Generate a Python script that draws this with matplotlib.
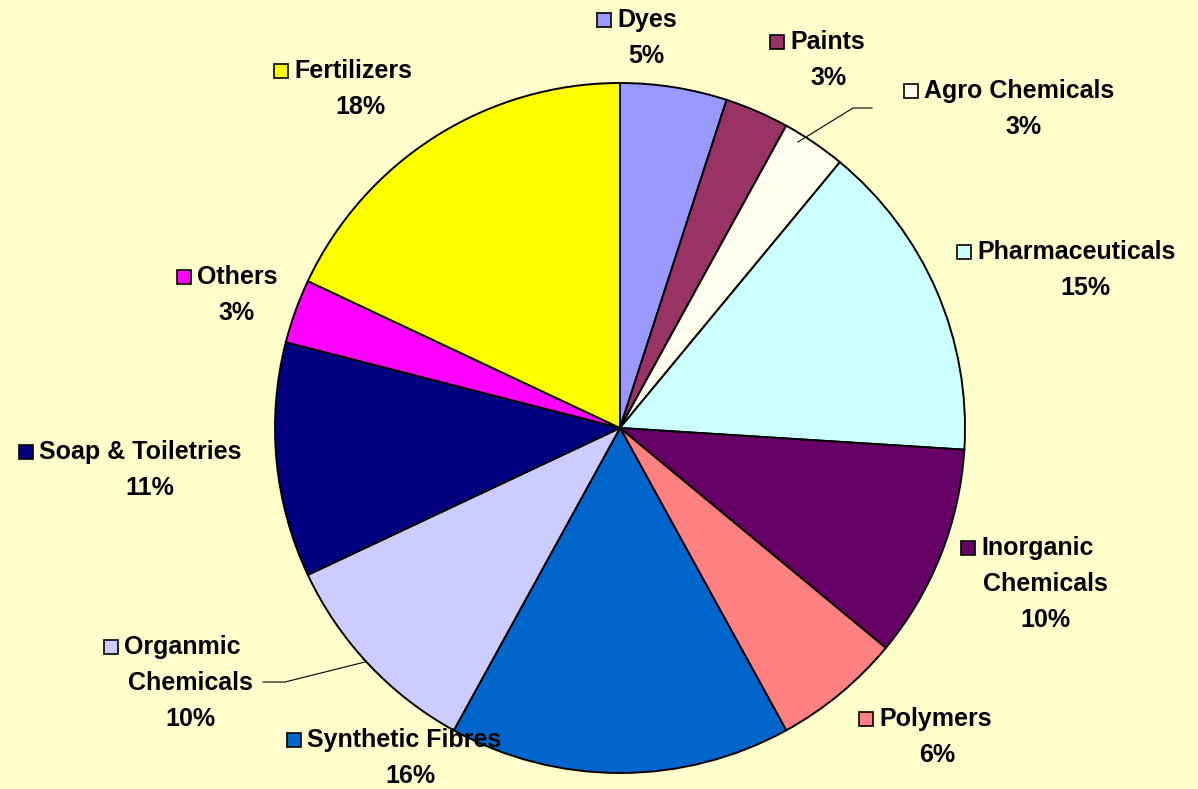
import matplotlib as mpl
mpl.use('Agg')
import matplotlib.pyplot as plt

# data
names = ["Dyes", "Paints", "Agro Chemicals", "Pharmaceuticals", "Inorganic\nChemicals",
         "Polymers", "Synthetic Fibres", "Organmic\nChemicals", "Soap & Toiletries",
         "Others", "Fertilizers"]
shares = [5, 3, 3, 15, 10, 6, 16, 10, 11, 3, 18]
colors = ["#9999FF", "#993366", "#FFFFEE", "#CCFFFF", "#660066", "#FF8080",
          "#0066CC", "#CCCCFF", "#000080", "#FF00FF", "#FFFF00"]

# label layout in pixels (square x, first line y, center x of wrapped lines)
W, H = 1198, 789
label_pos = [(598, 20, 646), (771, 42, 829), (905, 91, 1024), (958, 252, 1085),
             (962, 548, 1045), (860, 719, 937), (288, 740, 410), (105, 647, 190),
             (20, 452, 150), (178, 277, 237), (275, 71, 360)]
bg = "#FFFFCC"
fs = 18
line_h = 36

fig = plt.figure(figsize=(W/100, H/100), dpi=100, facecolor=bg)
ax = fig.add_axes([0, 0, 1, 1])
ax.set_facecolor(bg)

ax.pie(shares, colors=colors, startangle=90, counterclock=False,
       center=(620, H - 428), radius=345, frame=True,
       wedgeprops=dict(edgecolor='black', linewidth=1.4))
ax.set_xlim(0, W)
ax.set_ylim(0, H)
ax.set_aspect('equal')
ax.axis('off')

font = dict(family=['Liberation Sans', 'DejaVu Sans'], weight='bold', size=fs, color='black')

for name, val, col, (sx, sy, cx) in zip(names, shares, colors, label_pos):
    lines = name.split("\n")
    # square marker + first line
    ax.plot([sx + 6], [H - sy], marker='s', markersize=9.5, markerfacecolor=col,
            markeredgecolor='black', markeredgewidth=1.2, linestyle='none')
    ax.text(sx + 19, H - sy, lines[0], ha='left', va='center', **font)
    y = sy
    for extra in lines[1:]:
        y += line_h
        ax.text(cx, H - y, extra, ha='center', va='center', **font)
    y += line_h
    ax.text(cx, H - y, str(val) + "%", ha='center', va='center', **font)

# leader lines
ax.plot([798, 853, 872], [H - 142, H - 108, H - 108], color='black', lw=0.8)
ax.plot([365, 285, 263], [H - 662, H - 682, H - 682], color='black', lw=0.8)

fig.savefig("out.png", dpi=100, facecolor=bg)
